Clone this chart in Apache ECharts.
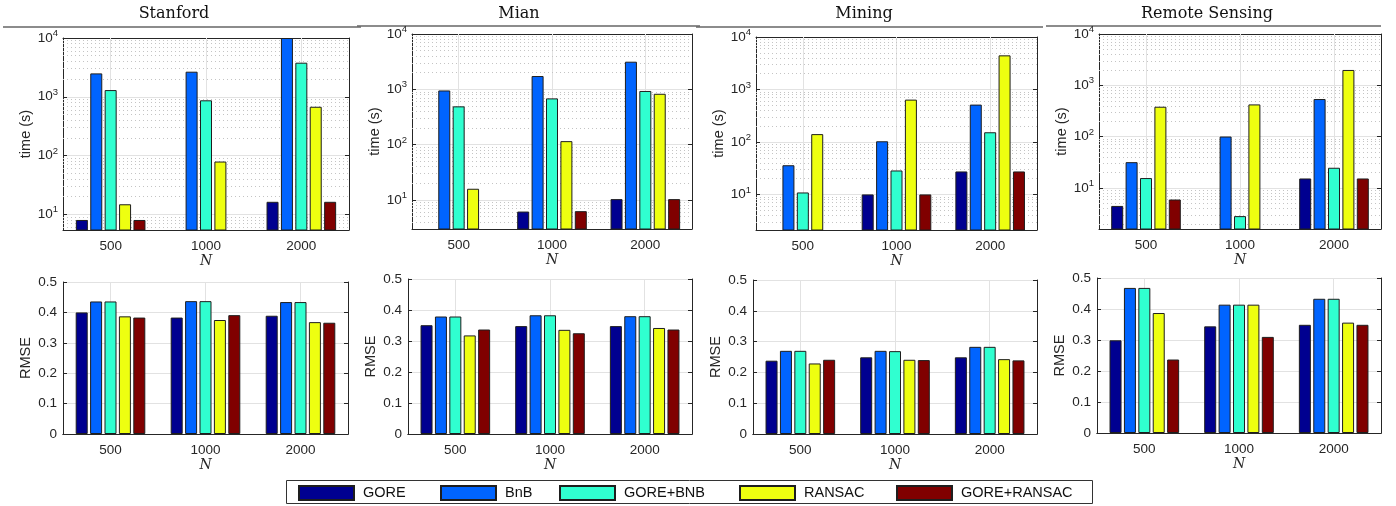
<!DOCTYPE html>
<html><head><meta charset="utf-8">
<script src="https://cdn.jsdelivr.net/npm/echarts@6/dist/echarts.min.js"></script>
<style>html,body{margin:0;padding:0;background:#fff}#c{width:1396px;height:506px}</style>
</head><body><div id="c"></div>
<script>
// ---- data ----
const categories = ['500', '1000', '2000'];
const methods = ['GORE', 'BnB', 'GORE+BNB', 'RANSAC', 'GORE+RANSAC'];
const datasets = ['Stanford', 'Mian', 'Mining', 'Remote Sensing'];
const colors = ['#000090', '#0064ff', '#30ffd0', '#eeff10', '#800000'];
// time (s): rows = methods, columns = N
const timeStanford = [[8.0, 5, 16.3], [2500, 2670, 10000], [1300, 870, 3800], [14.8, 79, 676], [8.0, 5, 16.3]];
const timeMian = [[2.9, 6.2, 10.4], [955, 1740, 3160], [493, 687, 935], [16, 116, 832], [2.9, 6.3, 10.4]];
const timeMining = [[2, 10, 27.4], [36, 103, 515], [10.9, 28.6, 153], [141, 641, 4470], [2, 10, 27.4]];
const timeRemote = [[4.5, 1.5, 15.4], [32, 101, 542], [15.7, 2.85, 24.9], [384, 426, 1995], [6.0, 1.5, 15.4]];
// RMSE: rows = methods, columns = N
const rmseStanford = [[0.400, 0.383, 0.389], [0.436, 0.437, 0.434], [0.436, 0.437, 0.434], [0.387, 0.375, 0.368], [0.383, 0.391, 0.366]];
const rmseMian = [[0.351, 0.348, 0.348], [0.379, 0.383, 0.380], [0.379, 0.383, 0.380], [0.318, 0.336, 0.342], [0.337, 0.325, 0.337]];
const rmseMining = [[0.238, 0.249, 0.249], [0.270, 0.270, 0.283], [0.270, 0.269, 0.283], [0.229, 0.241, 0.243], [0.241, 0.240, 0.239]];
const rmseRemote = [[0.299, 0.344, 0.349], [0.468, 0.414, 0.433], [0.468, 0.414, 0.433], [0.387, 0.414, 0.356], [0.237, 0.310, 0.349]];
const timeMin = [5.4, 3.0, 2.1, 1.6];
const timeMax = 10000;

// ---- layout ----
const timeData = [timeStanford, timeMian, timeMining, timeRemote];
const rmseData = [rmseStanford, rmseMian, rmseMining, rmseRemote];
const topGrids = [
  {left: 63, top: 38, width: 286, height: 192},
  {left: 412, top: 34, width: 280, height: 195},
  {left: 756, top: 37, width: 281, height: 193},
  {left: 1099, top: 34, width: 282, height: 195}
];
const botGrids = [
  {left: 63, top: 282, width: 285, height: 152},
  {left: 408, top: 279, width: 284, height: 155},
  {left: 753, top: 280, width: 284, height: 154},
  {left: 1097, top: 278, width: 284, height: 155}
];
const axisColor = '#262626';
const sans = 'Liberation Sans, Arial, sans-serif';
const serif = 'DejaVu Serif, serif';

const grid = [], xAxis = [], yAxis = [], series = [];

function addPanel(g, rows, isTime, yMin) {
  const gi = grid.length;
  grid.push(Object.assign({containLabel: false}, g));
  const xb = xAxis.length;
  xAxis.push({
    type: 'category', gridIndex: gi, data: categories, position: 'bottom',
    axisLine: {lineStyle: {color: axisColor}},
    axisTick: {inside: true, alignWithLabel: true, length: 4, lineStyle: {color: axisColor}},
    axisLabel: {color: axisColor, fontFamily: sans, fontSize: 13.5, margin: 9},
    splitLine: {show: false},
    name: 'N', nameLocation: 'middle', nameGap: 24,
    nameTextStyle: {fontFamily: serif, fontStyle: 'italic', fontSize: 14, color: axisColor}
  });
  xAxis.push({
    type: 'category', gridIndex: gi, data: categories, position: 'top',
    axisLine: {lineStyle: {color: axisColor}},
    axisTick: {inside: true, alignWithLabel: true, length: 4, lineStyle: {color: axisColor}},
    axisLabel: {show: false}, splitLine: {show: false}
  });
  const yb = yAxis.length;
  const common = isTime
    ? {type: 'log', logBase: 10, min: yMin, max: timeMax}
    : {type: 'value', min: 0, max: 0.5, interval: 0.1};
  yAxis.push(Object.assign({}, common, {
    gridIndex: gi, position: 'left',
    axisLine: {show: true, lineStyle: {color: axisColor}},
    axisTick: {show: true, inside: true, length: 4, lineStyle: {color: axisColor}},
    splitLine: {show: true, lineStyle: {color: '#e2e2e2', width: 1}},
    axisLabel: isTime ? {
      color: axisColor, fontFamily: sans, fontSize: 13.5, margin: 5,
      formatter: function (v) {
        const e = Math.log10(v);
        if (Math.abs(e - Math.round(e)) > 1e-6) return '';
        return '{b|10}{s|' + Math.round(e) + '}';
      },
      rich: {
        b: {fontFamily: sans, fontSize: 13.5, color: axisColor},
        s: {fontFamily: sans, fontSize: 9.5, color: axisColor, padding: [0, 0, 9, 0]}
      }
    } : {color: axisColor, fontFamily: sans, fontSize: 13.5, margin: 6},
    name: isTime ? 'time (s)' : 'RMSE', nameLocation: 'middle', nameGap: 30,
    nameTextStyle: {fontFamily: sans, fontSize: 14.5, color: axisColor}
  }));
  yAxis.push(Object.assign({}, common, {
    gridIndex: gi, position: 'right',
    axisLine: {show: true, lineStyle: {color: axisColor}},
    axisTick: {show: true, inside: true, length: 4, lineStyle: {color: axisColor}},
    splitLine: {show: false}, axisLabel: {show: false}
  }));
  // grid-line helper series (drawn under the bars)
  const ml = categories.map(c => ({xAxis: c, lineStyle: {color: '#e2e2e2', type: 'solid', width: 1}}));
  if (isTime) {
    for (let k = 0; k < 4; k++) {
      for (let m = 2; m <= 9; m++) {
        const v = m * Math.pow(10, k);
        if (v > yMin && v < timeMax) ml.push({yAxis: v, lineStyle: {color: '#c4c4c4', type: [1, 3], width: 1}});
      }
    }
  }
  series.push({
    type: 'line', xAxisIndex: xb, yAxisIndex: yb, data: [], z: 1, silent: true,
    markLine: {z: 1, silent: true, symbol: ['none', 'none'], label: {show: false}, animation: false, data: ml}
  });
  methods.forEach((name, i) => {
    series.push({
      type: 'bar', name: name, xAxisIndex: xb, yAxisIndex: yb, data: rows[i], z: 3,
      barWidth: 12, barGap: '20%', clip: true,
      itemStyle: {color: colors[i], borderColor: '#1e1e1e', borderWidth: 1}
    });
  });
}

for (let p = 0; p < 4; p++) addPanel(topGrids[p], timeData[p], true, timeMin[p]);
for (let p = 0; p < 4; p++) addPanel(botGrids[p], rmseData[p], false, 0);

const legendLeft = [298, 440, 559, 739, 896];
const legend = methods.map((m, i) => ({
  data: [m], left: legendLeft[i], top: 485, padding: 0, itemWidth: 55, itemHeight: 14,
  selectedMode: false, icon: 'rect',
  textStyle: {fontFamily: sans, fontSize: 14.5, color: '#111', padding: [0, 0, 0, 4]}
}));

const titleCenters = [174, 519, 864, 1207];
const titleLines = [[3, 361], [357, 700], [696, 1043], [1046, 1381]];
const graphic = [];
datasets.forEach((t, i) => {
  graphic.push({type: 'text', x: titleCenters[i], y: 6, style: {text: t, font: '16px ' + serif, fill: '#111', textAlign: 'center', textVerticalAlign: 'top'}, silent: true});
  graphic.push({type: 'line', shape: {x1: titleLines[i][0], y1: i % 2 ? 26 : 27, x2: titleLines[i][1], y2: i % 2 ? 26 : 27}, style: {stroke: '#666', lineWidth: 1.3}, silent: true});
});
graphic.push({type: 'rect', shape: {x: 286.5, y: 480.5, width: 806, height: 23}, style: {fill: 'none', stroke: '#333', lineWidth: 1}, silent: true});

const chart = echarts.init(document.getElementById('c'), null, {renderer: 'canvas'});
chart.setOption({
  animation: false,
  backgroundColor: '#fff',
  grid, xAxis, yAxis, series, legend, graphic
});
</script>
</body></html>
